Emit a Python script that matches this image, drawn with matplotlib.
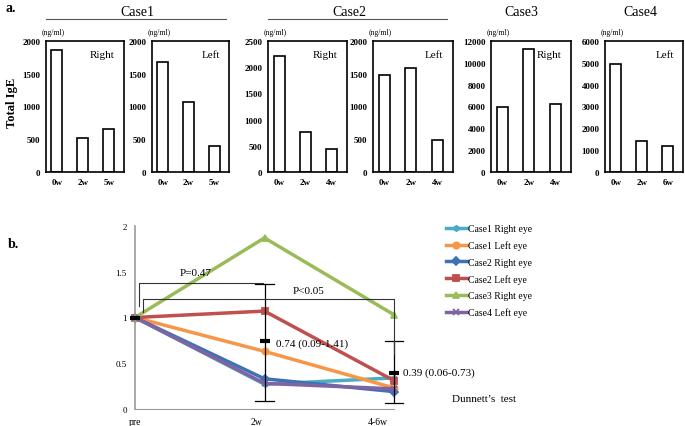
import numpy as np
import matplotlib
matplotlib.use("Agg")
import matplotlib.pyplot as plt
import matplotlib.transforms as mtransforms

plt.rcParams['font.family'] = ['Liberation Serif', 'DejaVu Serif']

W, H = 685, 427

# ---- panel a data (total IgE, ng/ml)
bar_titles = ['Right', 'Left', 'Right', 'Left', 'Right', 'Left']
bar_weeks = [['0w', '2w', '5w'], ['0w', '2w', '5w'], ['0w', '2w', '4w'],
             ['0w', '2w', '4w'], ['0w', '2w', '4w'], ['0w', '2w', '6w']]
bar_values = [[1870, 515, 655], [1680, 1065, 400], [2215, 755, 435],
              [1480, 1595, 485], [5970, 11230, 6250], [4965, 1405, 1175]]
bar_ymax = [2000, 2000, 2500, 2000, 12000, 6000]
bar_ystep = [500, 500, 500, 500, 2000, 1000]
case_names = ['Case1', 'Case2', 'Case3', 'Case4']

# ---- panel b data (ratio to pre)
time_labels = ['pre', '2w', '4-6w']
series_names = ['Case1 Right eye', 'Case1 Left eye', 'Case2 Right eye',
                'Case2 Left eye', 'Case3 Right eye', 'Case4 Left eye']
c1_right = [1.0, 0.27, 0.34]
c1_left = [1.0, 0.63, 0.23]
c2_right = [1.0, 0.33, 0.19]
c2_left = [1.0, 1.07, 0.31]
c3_right = [1.0, 1.87, 1.03]
c4_left = [1.0, 0.28, 0.22]
mean_vals = [1.0, 0.74, 0.39]
err_low = [None, 0.09, 0.07]
err_high = [None, 1.37, 0.74]


def px_axes(fig, left, top, right, bottom):
    return fig.add_axes([left / W, 1 - bottom / H, (right - left) / W, (bottom - top) / H])


def ftext(fig, x, y, s, **kw):
    fig.text(x / W, 1 - y / H, s, **kw)


fig = plt.figure(figsize=(W / 100, H / 100), dpi=100)

# panel a
bar_boxes = [(46, 124), (152, 229), (268, 347), (373, 453), (491, 571), (605, 683)]
for i, (l, r) in enumerate(bar_boxes):
    ax = px_axes(fig, l, 42, r, 173)
    ax.bar(range(3), bar_values[i], width=0.42, color='white', edgecolor='black', linewidth=1.2)
    ax.set_xlim(-0.42, 2.58)
    ax.set_ylim(0, bar_ymax[i])
    ax.set_yticks(np.arange(0, bar_ymax[i] + 1, bar_ystep[i]))
    ax.set_xticks(range(3))
    ax.set_xticklabels(bar_weeks[i])
    ax.tick_params(length=0, labelsize=6.5, pad=4)
    for lab in ax.get_xticklabels() + ax.get_yticklabels():
        lab.set_fontweight('bold')
    for sp in ax.spines.values():
        sp.set_linewidth(1.2)
    ax.text(0.88, 0.9, bar_titles[i], transform=ax.transAxes, ha='right', va='center', fontsize=8)
    ftext(fig, l - 4, 33, '(ng/ml)', fontsize=5.5, ha='left', va='center')

ftext(fig, 137, 13, case_names[0], fontsize=10, ha='center', va='center')
ftext(fig, 349, 13, case_names[1], fontsize=10, ha='center', va='center')
ftext(fig, 521, 13, case_names[2], fontsize=10, ha='center', va='center')
ftext(fig, 640, 13, case_names[3], fontsize=10, ha='center', va='center')
for x0, x1 in [(46, 226), (268, 447)]:
    fig.add_artist(plt.Line2D([x0 / W, x1 / W], [1 - 20 / H, 1 - 20 / H],
                              color='#555555', linewidth=0.8))
ftext(fig, 12, 103, 'Total IgE', fontsize=9, fontweight='bold', rotation=90, ha='center', va='center')
ftext(fig, 5, 9, 'a.', fontsize=10, fontweight='bold', ha='left', va='center')

# panel b
ax = px_axes(fig, 135, 227, 394, 410)
x = np.arange(3)
styles = [('#4BACC6', (6, 2, 0)), ('#F79646', 'o'), ('#3F72B5', 'D'),
          ('#C0504D', 's'), ('#9BBB59', '^'), ('#8064A2', 'x')]
series = [c1_right, c1_left, c2_right, c2_left, c3_right, c4_left]
for vals, name, (col, mk) in zip(series, series_names, styles):
    ax.plot(x, vals, color=col, marker=mk, markersize=4.5, markeredgewidth=1.3,
            linewidth=2.5, label=name, clip_on=False)

bk = '#333333'
for xi in (1, 2):
    ax.plot([xi, xi], [err_low[xi], err_high[xi]], color='black', linewidth=0.9, clip_on=False)
    for yy in (err_low[xi], err_high[xi]):
        ax.plot([xi - 0.07, xi + 0.07], [yy, yy], color='black', linewidth=0.9, clip_on=False)
ax.plot(x, mean_vals, linestyle='none', marker='_', markersize=6.5, markeredgewidth=3,
        color='black', clip_on=False, zorder=5)

# brackets
ax.plot([0.03, 0.03, 0.99], [1.13, 1.377, 1.377], color=bk, linewidth=0.8, clip_on=False)
ax.plot([0.06, 0.06, 2.0, 2.0], [1.06, 1.20, 1.20, 0.6], color=bk, linewidth=0.8, clip_on=False)
ax.text(0.47, 1.49, 'P=0.47', fontsize=8, ha='center', va='center')
ax.text(1.34, 1.30, 'P<0.05', fontsize=8, ha='center', va='center')
ax.text(1.09, 0.72, '0.74 (0.09-1.41)', fontsize=8, ha='left', va='center')
ax.text(2.07, 0.40, '0.39 (0.06-0.73)', fontsize=8, ha='left', va='center')
ax.text(2.45, 0.11, 'Dunnett\u2019s  test', fontsize=8, ha='left', va='center')

ax.set_xlim(0, 2)
ax.set_ylim(0, 2)
ax.set_yticks([0, 0.5, 1, 1.5, 2])
ax.set_yticklabels(['0', '0.5', '1', '1.5', '2'])
ax.set_xticks(x)
ax.set_xticklabels(time_labels)
ax.tick_params(axis='y', length=0, labelsize=6.5, pad=6)
ax.tick_params(axis='x', length=0, labelsize=7, pad=6)
for lab, dx in zip(ax.get_xticklabels(), [0, -8, -16]):
    lab.set_transform(lab.get_transform() +
                      mtransforms.ScaledTranslation(dx / 100, 0, fig.dpi_scale_trans))
for s in ('top', 'right'):
    ax.spines[s].set_visible(False)
ax.spines['left'].set_color('#999999')
ax.spines['bottom'].set_color('#999999')
ax.spines['left'].set_linewidth(1.2)

ax.legend(loc='upper left', bbox_to_anchor=(1.185, 1.03), frameon=False, fontsize=7,
          handlelength=2.2, handletextpad=0.05, labelspacing=0.75, borderaxespad=0)
ftext(fig, 8, 245, 'b.', fontsize=10, fontweight='bold', ha='left', va='center')

fig.savefig('out.png', dpi=100)
